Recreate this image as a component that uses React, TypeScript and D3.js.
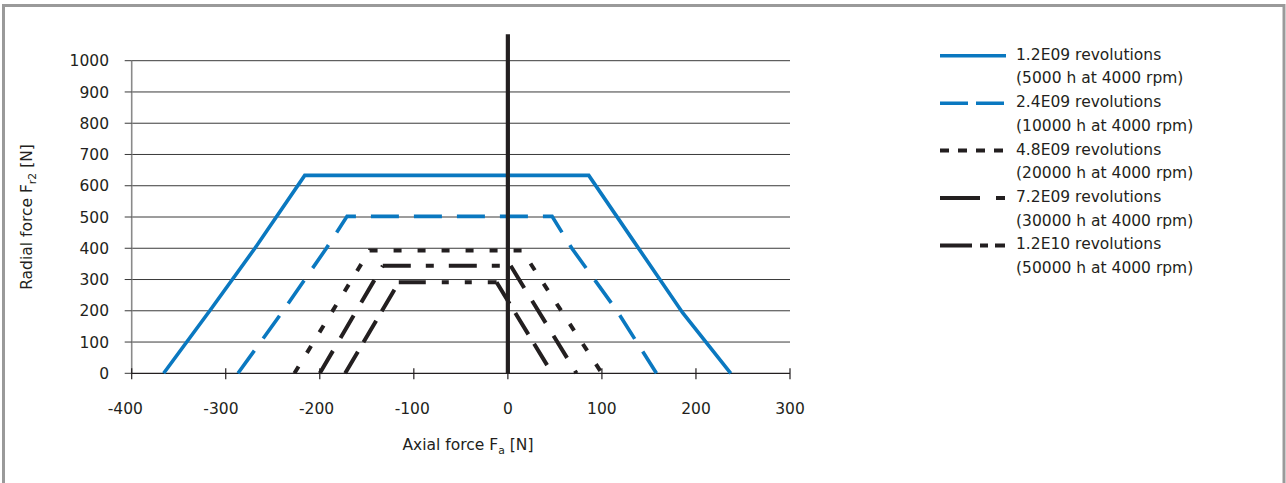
import React from 'react';
import * as d3 from 'd3';

const xTicks = [-400, -300, -200, -100, 0, 100, 200, 300];
const yTicks = [0, 100, 200, 300, 400, 500, 600, 700, 800, 900, 1000];

// [axial force, radial force]
const rev12e9: [number, number][] = [[-366, 0], [-317, 200], [-269, 400], [-216, 633], [86, 633], [133, 426], [186, 193], [237, 0]];
const rev24e9: [number, number][] = [[-287, 0], [-239, 200], [-193, 400], [-171, 502], [47, 502], [68, 400], [116, 200], [158, 0]];
const rev48e9: [number, number][] = [[-227, 0], [-147, 393], [15, 393], [100, 0]];
const rev72e9: [number, number][] = [[-200, 0], [-133, 344], [3, 344], [73, 0]];
const rev12e10: [number, number][] = [[-173, 0], [-116, 291], [-12, 291], [47, 0]];
const zeroLine: [number, number][] = [[0, 0], [0, 1085]];

const legendTitles = ['1.2E09 revolutions', '2.4E09 revolutions', '4.8E09 revolutions', '7.2E09 revolutions', '1.2E10 revolutions'];
const legendSubs = ['(5000 h at 4000 rpm)', '(10000 h at 4000 rpm)', '(20000 h at 4000 rpm)', '(30000 h at 4000 rpm)', '(50000 h at 4000 rpm)'];

const BLUE = '#0a78c0';
const BLACK = '#231f20';
const FONT = '"DejaVu Sans", sans-serif';
const FS = 15.5;

type Series = { data: [number, number][]; color: string; width: number; dash: string | null; slantDash?: string; legendDash: string | null };

const series: Series[] = [
  { data: rev12e9, color: BLUE, width: 3.6, dash: null, legendDash: null },
  { data: rev24e9, color: BLUE, width: 3.6, dash: '28 15', legendDash: '28 8' },
  { data: rev48e9, color: BLACK, width: 4, dash: '8 16', legendDash: '9 9' },
  { data: rev72e9, color: BLACK, width: 4, dash: '28 15 8 15', slantDash: '26 15', legendDash: '40 16 9 20' },
  { data: rev12e10, color: BLACK, width: 4, dash: '27 16 7 16 7 16', slantDash: '25 11', legendDash: '32 8 8 7 10' },
];

export default function App() {
  const x = d3.scaleLinear().domain([-400, 300]).range([131.7, 790]);
  const y = d3.scaleLinear().domain([0, 1000]).range([373.3, 60.7]);
  const line = d3.line<[number, number]>().x(d => x(d[0])).y(d => y(d[1]));

  const legendX0 = 940;
  const legendX1 = 1006;
  const legendTextX = 1016;
  const legendSymY = (i: number) => 55.8 + 47.4 * i;

  return (
    <svg width={1286} height={483} style={{ position: 'absolute', left: 0, top: 0, background: '#fff' }} fontFamily={FONT}>
      <rect x={3.5} y={5.5} width={1280.5} height={520} fill="#fff" stroke="#9a9a9a" strokeWidth={3} />

      {/* gridlines */}
      {yTicks.filter(t => t > 0).map(t => (
        <line key={'g' + t} x1={x(-400)} x2={x(300)} y1={y(t)} y2={y(t)} stroke="#3a3a3a" strokeWidth={1} />
      ))}
      {/* y axis */}
      <line x1={x(-400)} x2={x(-400)} y1={y(0)} y2={y(1000)} stroke="#8a8a8a" strokeWidth={1.6} />
      {yTicks.map(t => (
        <line key={'yt' + t} x1={x(-400) - 7} x2={x(-400)} y1={y(t)} y2={y(t)} stroke="#3a3a3a" strokeWidth={1} />
      ))}
      {yTicks.map(t => (
        <text key={'yl' + t} x={109} y={y(t)} dy="0.36em" textAnchor="end" fontSize={FS} fill="#231f20">{t}</text>
      ))}
      {/* x axis */}
      <line x1={x(-400)} x2={x(300)} y1={y(0)} y2={y(0)} stroke="#231f20" strokeWidth={1.2} />
      {xTicks.map(t => (
        <line key={'xt' + t} x1={x(t)} x2={x(t)} y1={y(0) - 5} y2={y(0) + 6} stroke="#231f20" strokeWidth={1.2} />
      ))}
      {xTicks.map(t => (
        <text key={'xl' + t} x={x(t)} dx={t < 0 ? (t / 100) * 1.6 : 0} y={413.5} textAnchor="middle" fontSize={FS} fill="#231f20">{t}</text>
      ))}

      {/* axis titles */}
      <text x={468} y={449.5} textAnchor="middle" fontSize={FS} fill="#231f20">
        Axial force F<tspan fontSize={FS * 0.7} dy={4}>a</tspan><tspan dy={-4}> [N]</tspan>
      </text>
      <text transform="translate(32,217) rotate(-90)" textAnchor="middle" fontSize={FS} fill="#231f20">
        Radial force F<tspan fontSize={FS * 0.7} dy={4}>r2</tspan><tspan dy={-4}> [N]</tspan>
      </text>

      {/* series */}
      {series.map((s, i) => {
        if (!s.slantDash) {
          return (
            <path key={'s' + i} d={line(s.data) || ''} fill="none" stroke={s.color} strokeWidth={s.width}
              strokeDasharray={s.dash || undefined} strokeLinejoin="miter" />
          );
        }
        return (
          <g key={'s' + i}>
            {s.data.slice(1).map((p, j) => {
              const p0 = s.data[j];
              const horiz = p0[1] === p[1];
              return (
                <path key={j} d={line([p0, p]) || ''} fill="none" stroke={s.color} strokeWidth={s.width}
                  strokeDasharray={horiz ? s.dash! : s.slantDash} />
              );
            })}
          </g>
        );
      })}
      <path d={line(zeroLine) || ''} fill="none" stroke={BLACK} strokeWidth={4.2} />

      {/* legend */}
      {series.map((s, i) => (
        <g key={'l' + i}>
          <line x1={legendX0} x2={legendX1} y1={legendSymY(i)} y2={legendSymY(i)} stroke={s.color} strokeWidth={s.width}
            strokeDasharray={s.legendDash || undefined} />
          <text x={legendTextX} y={legendSymY(i) + 3.9} fontSize={FS} fill="#231f20">{legendTitles[i]}</text>
          <text x={legendTextX} y={legendSymY(i) + 3.9 + 23.7} fontSize={FS} fill="#231f20">{legendSubs[i]}</text>
        </g>
      ))}
    </svg>
  );
}
